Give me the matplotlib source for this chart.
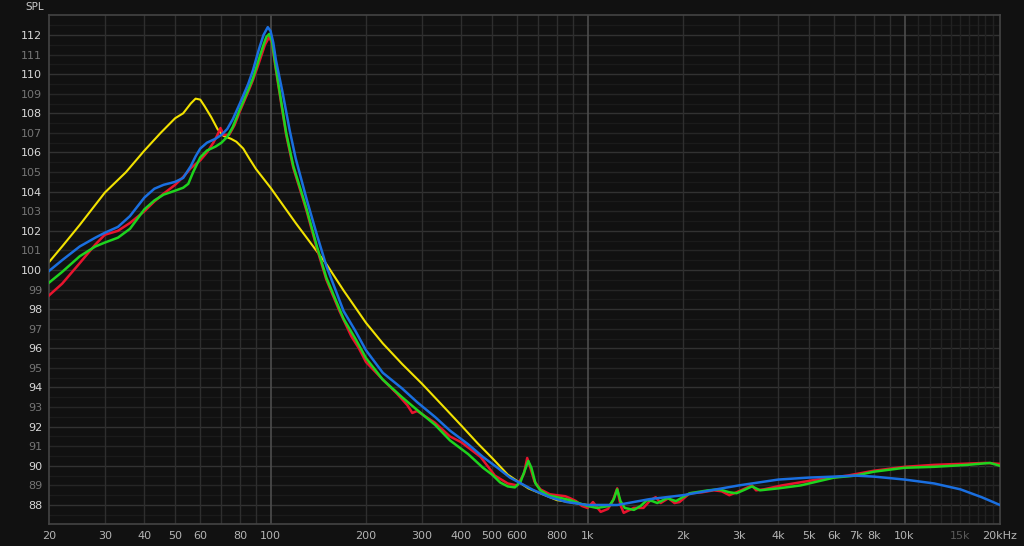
import numpy as np
import matplotlib.pyplot as plt

# Frequency response readings (Hz, dB SPL) for the four traces
yellow_freq = [20, 22, 25, 30, 35, 40, 45, 50, 53, 56, 58, 60, 62, 65, 68, 71, 75, 78, 82, 86, 90,
               100, 120, 150, 170, 200, 226, 260, 300, 350, 400, 450, 500, 560, 650, 800,
               1000, 1200]
yellow_spl = [100.4, 101.2, 102.3, 103.95, 105.0, 106.1, 107.0, 107.75, 108.0, 108.5, 108.75, 108.7,
              108.35, 107.8, 107.2, 106.85, 106.7, 106.55, 106.2, 105.65, 105.15,
              104.2, 102.4, 100.3, 98.95, 97.3, 96.25, 95.2, 94.2, 93.05, 92.05, 91.15, 90.4,
              89.55, 88.85, 88.25, 88.0, 88.0]

red_freq = [20, 22, 25, 28, 30, 33, 36, 40, 43, 46, 50, 53, 56, 60, 63, 66, 68, 69.5, 71, 74, 77, 80,
            85, 88, 92, 96, 99, 101, 104, 108, 112, 118, 125, 130, 140, 150, 165, 180, 190, 200, 226,
            250, 270, 280, 290, 330, 368, 400, 460, 510, 560, 600, 630, 645, 660, 680, 710, 760,
            800, 850, 880, 920, 960, 1000, 1040, 1100, 1160, 1200, 1240, 1270, 1300, 1400, 1500,
            1580, 1640, 1700, 1800, 1880, 1950, 2100, 2300, 2500, 2650, 2800, 3000, 3300, 3400,
            3600, 4100, 5300, 6600, 8000, 10000, 12400, 15000, 18000, 20000]
red_spl = [98.7, 99.3, 100.35, 101.3, 101.8, 102.0, 102.4, 103.0, 103.5, 103.9, 104.35, 104.75,
           105.2, 105.6, 106.0, 106.5, 106.9, 107.25, 106.9, 106.9, 107.4, 108.1,
           109.1, 109.7, 110.6, 111.5, 111.9, 111.6, 110.2, 108.5, 106.9, 105.2, 103.9, 103.0,
           101.1, 99.5, 97.9, 96.6, 96.0, 95.3, 94.4,
           93.7, 93.1, 92.7, 92.8, 92.2, 91.5, 91.2, 90.45, 89.5, 89.1, 89.0, 89.6, 90.4, 89.9,
           89.2, 88.8, 88.55, 88.5, 88.45, 88.35, 88.2, 87.95, 87.85, 88.15, 87.65, 87.8, 88.2,
           88.85, 88.0, 87.6, 87.85, 87.85, 88.25, 88.4, 88.1, 88.35, 88.1, 88.15, 88.6, 88.65,
           88.75, 88.7, 88.5, 88.7, 89.0, 88.75, 88.8, 89.0, 89.3, 89.5, 89.75, 89.95, 90.05,
           90.1, 90.15, 90.1]

green_freq = [20, 22, 25, 28, 30, 33, 36, 40, 43, 46, 50, 53, 55, 57, 60, 63, 67, 70, 73, 76, 80,
              85, 88, 92, 95, 97, 99, 101, 104, 108, 112, 118, 125, 130, 140, 150, 170, 185, 200,
              226, 260, 290, 330, 368, 420, 468, 500, 530, 560, 590, 615, 635, 650, 665, 685, 710,
              750, 800, 880, 1000, 1070, 1170, 1210, 1240, 1270, 1310, 1400, 1470, 1540, 1600,
              1660, 1780, 1900, 2100, 2400, 2600, 2800, 2950, 3150, 3300, 3500, 4000, 4700, 6000,
              7000, 8000, 10000, 12400, 15800, 18600, 20000]
green_spl = [99.35, 99.9, 100.7, 101.2, 101.4, 101.65, 102.1, 103.1, 103.55, 103.85, 104.05, 104.2,
             104.4, 105.0, 105.75, 106.1, 106.3, 106.5, 106.8, 107.3, 108.2,
             109.2, 109.8, 110.8, 111.5, 111.9, 112.05, 111.7, 110.3, 108.6, 107.0, 105.3, 104.0,
             103.1, 101.2, 99.6, 97.5, 96.5, 95.5, 94.4,
             93.5, 92.85, 92.1, 91.3, 90.6, 89.9, 89.55, 89.15, 88.95, 88.9, 89.2, 89.8, 90.25,
             89.9, 89.1, 88.75, 88.5, 88.4, 88.25, 87.95, 87.85, 87.95, 88.3, 88.8, 88.2, 87.85,
             87.75, 87.95, 88.25, 88.2, 88.1, 88.35, 88.2, 88.6, 88.75, 88.8, 88.65, 88.6, 88.8,
             88.95, 88.75, 88.85, 89.0, 89.4, 89.5, 89.7, 89.9, 89.95, 90.05, 90.15, 90.0]

blue_freq = [20, 22, 25, 28, 30, 33, 36, 40, 43, 46, 50, 53, 56, 58, 60, 63, 67, 70, 73, 76, 80, 85,
             88, 92, 95, 98, 100, 102, 104, 109, 115, 120, 130, 140, 150, 170, 185, 200, 226, 260,
             290, 330, 368, 420, 468, 520, 569, 673, 760, 861, 1000, 1240, 1570, 2000, 3000, 4000,
             5000, 6000, 7000, 8000, 10000, 12400, 15000, 17500, 20000]
blue_spl = [99.95, 100.5, 101.2, 101.65, 101.9, 102.2, 102.75, 103.7, 104.15, 104.35, 104.5, 104.7,
            105.3, 105.8, 106.2, 106.5, 106.7, 106.9, 107.2, 107.7, 108.5, 109.5,
            110.2, 111.3, 112.0, 112.4, 112.2, 111.6, 110.7, 109.1, 107.1, 105.7, 103.6, 101.8,
            100.2, 97.9, 96.9, 95.9, 94.75, 93.95,
            93.25, 92.5, 91.8, 91.1, 90.45, 89.9, 89.4, 88.77, 88.4, 88.15, 88.0, 88.0, 88.3, 88.5,
            89.0, 89.3, 89.4, 89.45, 89.5, 89.45, 89.3, 89.1, 88.8, 88.4, 88.0]

# Axis ticks
x_ticks = [20, 30, 40, 50, 60, 80, 100, 200, 300, 400, 500, 600, 800, 1000, 2000, 3000, 4000,
           5000, 6000, 7000, 8000, 10000, 15000, 20000]
x_labels = ['20', '30', '40', '50', '60', '80', '100', '200', '300', '400', '500', '600', '800',
            '1k', '2k', '3k', '4k', '5k', '6k', '7k', '8k', '10k', '15k', '20kHz']
y_ticks = list(range(88, 113))

bg = '#111111'
fig = plt.figure(figsize=(10.24, 5.46), dpi=100, facecolor=bg)
ax = fig.add_axes([49 / 1024, 1 - 524 / 546, 951 / 1024, 509 / 546])
ax.set_facecolor(bg)
ax.set_xscale('log')
ax.set_xlim(20, 20000)
ax.set_ylim(87.03, 113.02)

# Grid: half dB faint, odd dB medium, even dB brighter
for v in np.arange(87.5, 113.0, 0.5):
    if v % 2 == 0:
        c = '#323232'
    elif v % 1 == 0:
        c = '#262626'
    else:
        c = '#1b1b1b'
    ax.axhline(v, color=c, lw=1.0, zorder=0)

# Vertical grid lines, decades brighter
vlines = list(range(30, 100, 10)) + list(range(200, 1000, 100)) + list(range(2000, 10000, 1000))
for f in vlines:
    ax.axvline(f, color='#2e2e2e', lw=1.0, zorder=0)
for f in range(11000, 20000, 1000):
    ax.axvline(f, color='#222222', lw=1.0, zorder=0)
for f in [100, 1000, 10000]:
    ax.axvline(f, color='#4d4d4d', lw=1.2, zorder=0)

# Traces
ax.plot(yellow_freq, yellow_spl, color='#f2e200', lw=1.5, zorder=2)
ax.plot(red_freq, red_spl, color='#e8142e', lw=1.8, zorder=3)
ax.plot(green_freq, green_spl, color='#1ed41e', lw=1.8, zorder=4)
ax.plot(blue_freq, blue_spl, color='#1a6fe0', lw=1.8, zorder=5)

# Ticks and labels
ax.set_xticks(x_ticks)
ax.set_xticklabels(x_labels)
ax.xaxis.set_minor_locator(plt.NullLocator())
ax.set_yticks(y_ticks)
ax.set_yticklabels([str(v) for v in y_ticks])
ax.tick_params(axis='both', length=0, labelsize=8)
ax.tick_params(axis='x', pad=5)
ax.tick_params(axis='y', pad=5)
for lbl in ax.get_xticklabels():
    lbl.set_color('#5a5a5a' if lbl.get_text() == '15k' else '#b4b4b4')
for lbl, v in zip(ax.get_yticklabels(), y_ticks):
    lbl.set_color('#d8d8d8' if v % 2 == 0 else '#757575')

for s in ax.spines.values():
    s.set_color('#444444')
    s.set_linewidth(1.2)

fig.text(44 / 1024, 1 - 7 / 546, 'SPL', color='#c8c8c8', fontsize=7.5, ha='right', va='center')

fig.savefig('out.png', dpi=100, facecolor=bg)
